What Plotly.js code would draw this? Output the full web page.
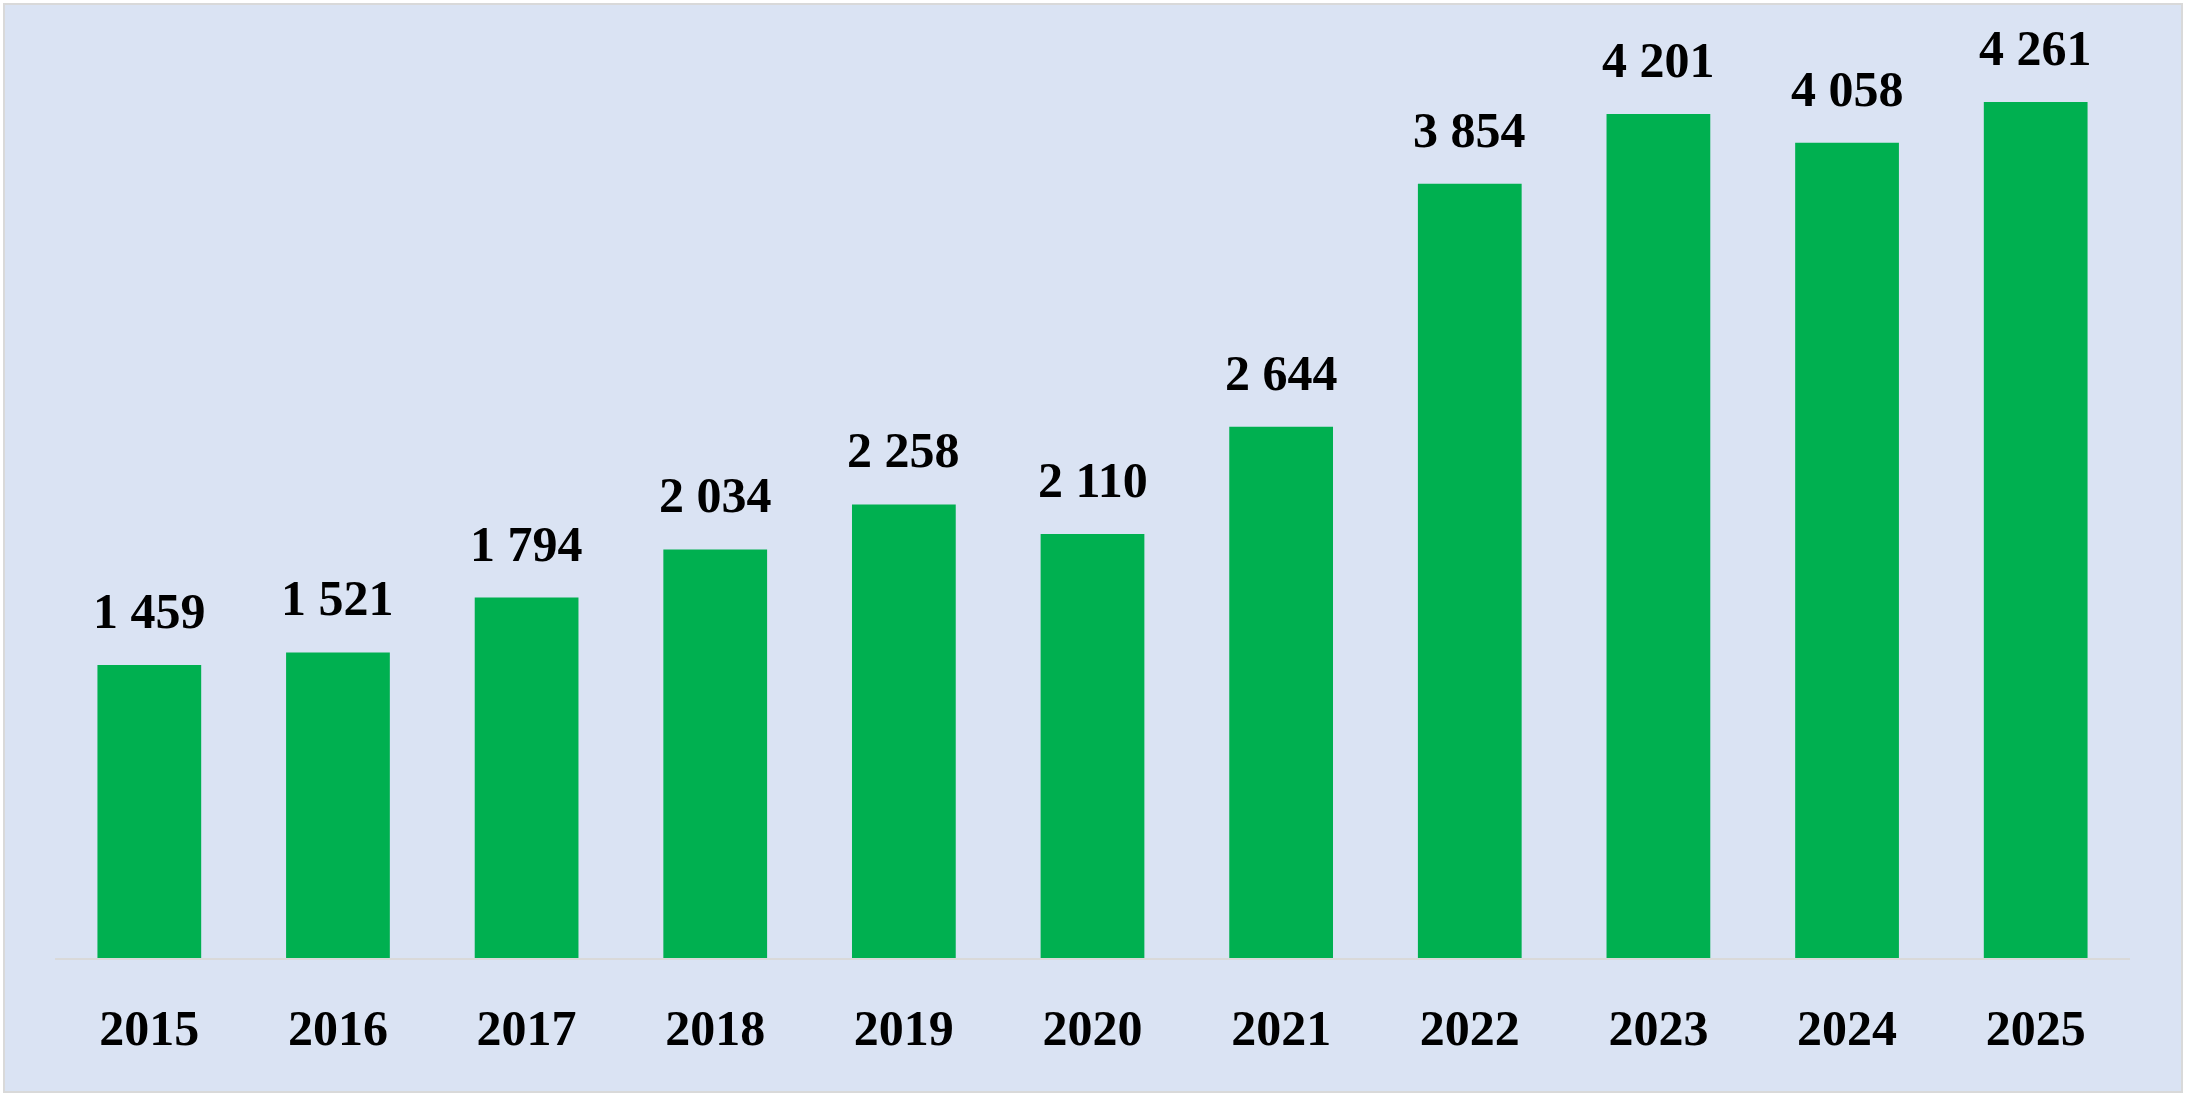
<!DOCTYPE html>
<html>
<head>
<meta charset="utf-8">
<script src="https://cdn.plot.ly/plotly-3.0.1.min.js"></script>
<style>
  html, body { margin: 0; padding: 0; background: #ffffff; }
  #chart { width: 2190px; height: 1100px; }
</style>
</head>
<body>
<div id="chart"></div>
<script>
const years = ['2015', '2016', '2017', '2018', '2019', '2020', '2021', '2022', '2023', '2024', '2025'];
const values = [1459, 1521, 1794, 2034, 2258, 2110, 2644, 3854, 4201, 4058, 4261];

const barColor = '#00B050';
const bgColor = '#DAE3F3';
const borderColor = '#D9D9D9';
const fontFamily = '"Liberation Serif", "DejaVu Serif", serif';

const fmt = (v) => String(v).replace(/\B(?=(\d{3})+(?!\d))/g, ' ');

// category axis: annotations use the category index, year strings look numeric
const labels = years.map((y, i) => ({
  x: i,
  y: values[i],
  text: '<b>' + fmt(values[i]) + '</b>',
  showarrow: false,
  xanchor: 'center',
  yanchor: 'bottom',
  yshift: 24,
  font: { family: fontFamily, size: 50, color: '#000000' }
}));

const bars = {
  type: 'bar',
  x: years,
  y: values,
  marker: { color: barColor },
  hoverinfo: 'x+y'
};

Plotly.newPlot('chart', [bars], {
  width: 2190,
  height: 1100,
  paper_bgcolor: '#ffffff',
  plot_bgcolor: 'rgba(0,0,0,0)',
  margin: { t: 10, l: 55, r: 60, b: 142 },
  bargap: 0.45,
  showlegend: false,
  xaxis: {
    type: 'category',
    range: [-0.5, years.length - 0.5],
    showgrid: false,
    showline: true,
    linecolor: borderColor,
    linewidth: 2,
    ticks: '',
    ticklabelstandoff: 25,
    tickfont: { family: fontFamily, size: 50, color: '#000000' },
    tickprefix: '<b>',
    ticksuffix: '</b>'
  },
  yaxis: {
    range: [0, 4719],
    showgrid: false,
    zeroline: false,
    showticklabels: false
  },
  shapes: [{
    type: 'rect',
    xref: 'paper',
    yref: 'paper',
    x0: -0.02458,
    x1: 1.02506,
    y0: -0.14135,
    y1: 1.00633,
    fillcolor: bgColor,
    line: { color: borderColor, width: 2 },
    layer: 'below'
  }],
  annotations: labels
}, { displayModeBar: false, responsive: false });
</script>
</body>
</html>
